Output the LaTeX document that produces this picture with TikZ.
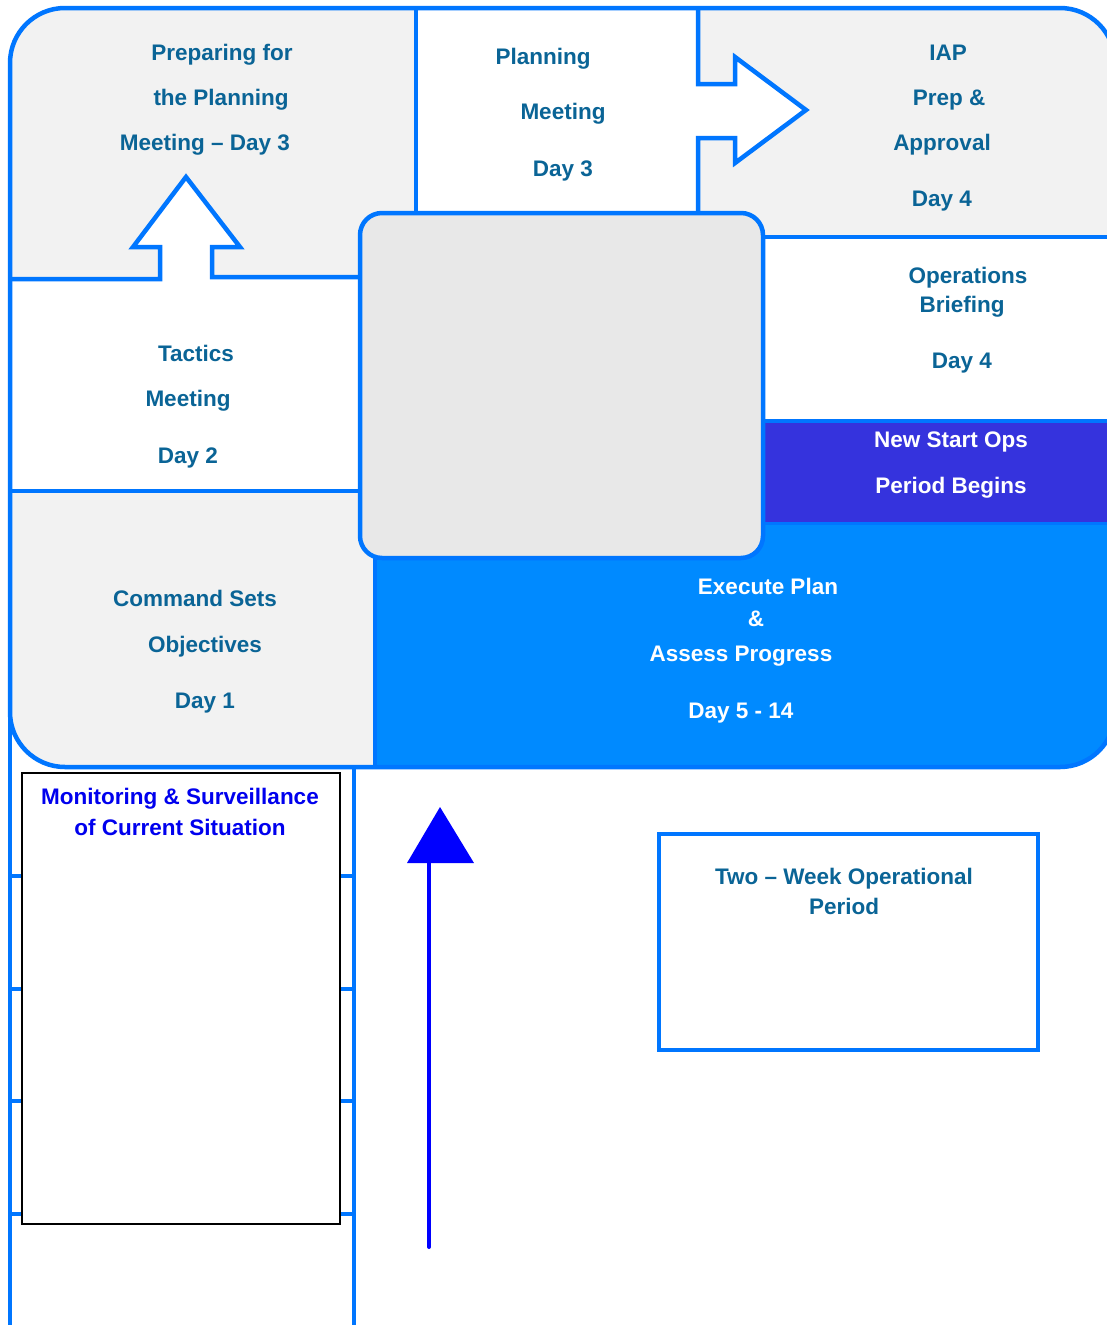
\documentclass[tikz,border=0pt]{standalone}
\usepackage{fontspec}
\setmainfont{Liberation Sans}
\definecolor{bordblue}{RGB}{0,118,255}
\definecolor{cellgray}{RGB}{242,242,242}
\definecolor{boxgray}{RGB}{232,232,232}
\definecolor{opsviolet}{RGB}{53,51,221}
\definecolor{execblue}{RGB}{0,138,255}
\definecolor{labelteal}{RGB}{10,100,150}
\definecolor{monblue}{RGB}{0,0,238}
\definecolor{arrowblue}{RGB}{0,0,255}
\begin{document}
\begin{tikzpicture}[x=1pt,y=-1pt,
  bline/.style={draw=bordblue, line width=4.5pt, line join=miter},
  lbl/.style={font=\fontsize{22.5}{27}\selectfont\bfseries, text=labelteal, inner sep=0pt, anchor=base},
  wlbl/.style={lbl, text=white},
  mlbl/.style={lbl, text=monblue}]
\clip (0,0) rectangle (1107,1325);
\fill[white] (0,0) rectangle (1107,1325);

% lower column with its row lines
\draw[bline, fill=white] (10,700) rectangle (354,1345);
\foreach \y in {876,989,1101,1214} \draw[bline] (10,\y) -- (354,\y);

% outer rounded panel
\fill[cellgray, rounded corners=55pt] (10,8) rectangle (1115,767);
\begin{scope}
  \clip[rounded corners=55pt] (10,8) rectangle (1115,767);
  \fill[white] (416,8) rectangle (698,213);
  \fill[white] (763,237) rectangle (1120,421);
  \fill[white] (10,278) rectangle (360,491);
  \fill[opsviolet] (763,421) rectangle (1120,523);
  \fill[execblue] (375,523) rectangle (1120,767);
  % cell boundaries
  \draw[bline] (416,8) -- (416,215);
  \draw[bline] (763,237) -- (1120,237);
  \draw[bline] (763,421) -- (1120,421);
  \draw[bline, line width=3pt] (763,523) -- (1120,523);
  \draw[bline] (375,555) -- (375,767);
  \draw[bline] (10,491) -- (362,491);
  % block arrow to the right
  \fill[white] (698,84) -- (735,84) -- (735,57) -- (806,110) -- (735,163) -- (735,138) -- (698,138) -- cycle;
  \draw[bline] (698,8) -- (698,84) -- (735,84) -- (735,57) -- (806,110) -- (735,163) -- (735,138) -- (698,138) -- (698,215);
  % block arrow upward
  \fill[white] (160,279) -- (160,247) -- (133,247) -- (186,177) -- (240,247) -- (212,247) -- (212,279) -- cycle;
  \draw[bline] (10,279) -- (160,279) -- (160,247) -- (133,247) -- (186,177) -- (240,247) -- (212,247) -- (212,277) -- (362,277);
\end{scope}

% central hub
\node[draw=bordblue, line width=4.5pt, fill=boxgray, rounded corners=22pt,
      minimum width=403pt, minimum height=345pt, inner sep=0pt] (hub) at (561.5,385.5) {};

% outer border
\draw[bline, rounded corners=55pt] (10,8) rectangle (1115,767);

% cell labels
\node[lbl] (prepa) at (222,60) {Preparing for};
\node[lbl] (prepb) at (221,105) {the Planning};
\node[lbl] (prepc) at (205,150) {Meeting – Day 3};

\node[lbl] (plana) at (543,64) {Planning};
\node[lbl] (planb) at (563,119) {Meeting};
\node[lbl] (planc) at (563,176) {Day 3};

\node[lbl] (iapa) at (948,60) {IAP};
\node[lbl] (iapb) at (949,105) {Prep \&};
\node[lbl] (iapc) at (942,150) {Approval};
\node[lbl] (iapd) at (942,206) {Day 4};

\node[lbl] (opsa) at (968,283) {Operations};
\node[lbl] (opsb) at (962,312) {Briefing};
\node[lbl] (opsc) at (962,368) {Day 4};

\node[wlbl] (newa) at (951,447) {New Start Ops};
\node[wlbl] (newb) at (951,493) {Period Begins};

\node[lbl] (taca) at (196,361) {Tactics};
\node[lbl] (tacb) at (188,406) {Meeting};
\node[lbl] (tacc) at (188,463) {Day 2};

\node[lbl] (cmda) at (195,606) {Command Sets};
\node[lbl] (cmdb) at (205,652) {Objectives};
\node[lbl] (cmdc) at (205,708) {Day 1};

\node[wlbl] (exea) at (768,594) {Execute Plan};
\node[wlbl] (exeb) at (756,626) {\&};
\node[wlbl] (exec) at (741,661) {Assess Progress};
\node[wlbl] (exed) at (741,718) {Day 5 - 14};

% monitoring panel
\node[draw=black, line width=2pt, fill=white, minimum width=318pt, minimum height=451pt,
      inner sep=0pt] (mon) at (181,998.5) {};
\node[mlbl] (mona) at (180,804) {Monitoring \& Surveillance};
\node[mlbl] (monb) at (180,835) {of Current Situation};

% two-week period box
\node[bline, minimum width=379pt, minimum height=216pt, inner sep=0pt] (two) at (848.5,942) {};
\node[lbl] (twoa) at (844,884) {Two – Week Operational};
\node[lbl] (twob) at (844,914) {Period};

% upward arrow
\coordinate (arrtail) at (429,1247);
\coordinate (arrbase) at (429,863);
\draw[arrowblue, line width=4pt, line cap=round] (arrtail) -- (arrbase);
\fill[arrowblue] (407,863) -- (474,863) -- (440,807) -- cycle;
\end{tikzpicture}
\end{document}
